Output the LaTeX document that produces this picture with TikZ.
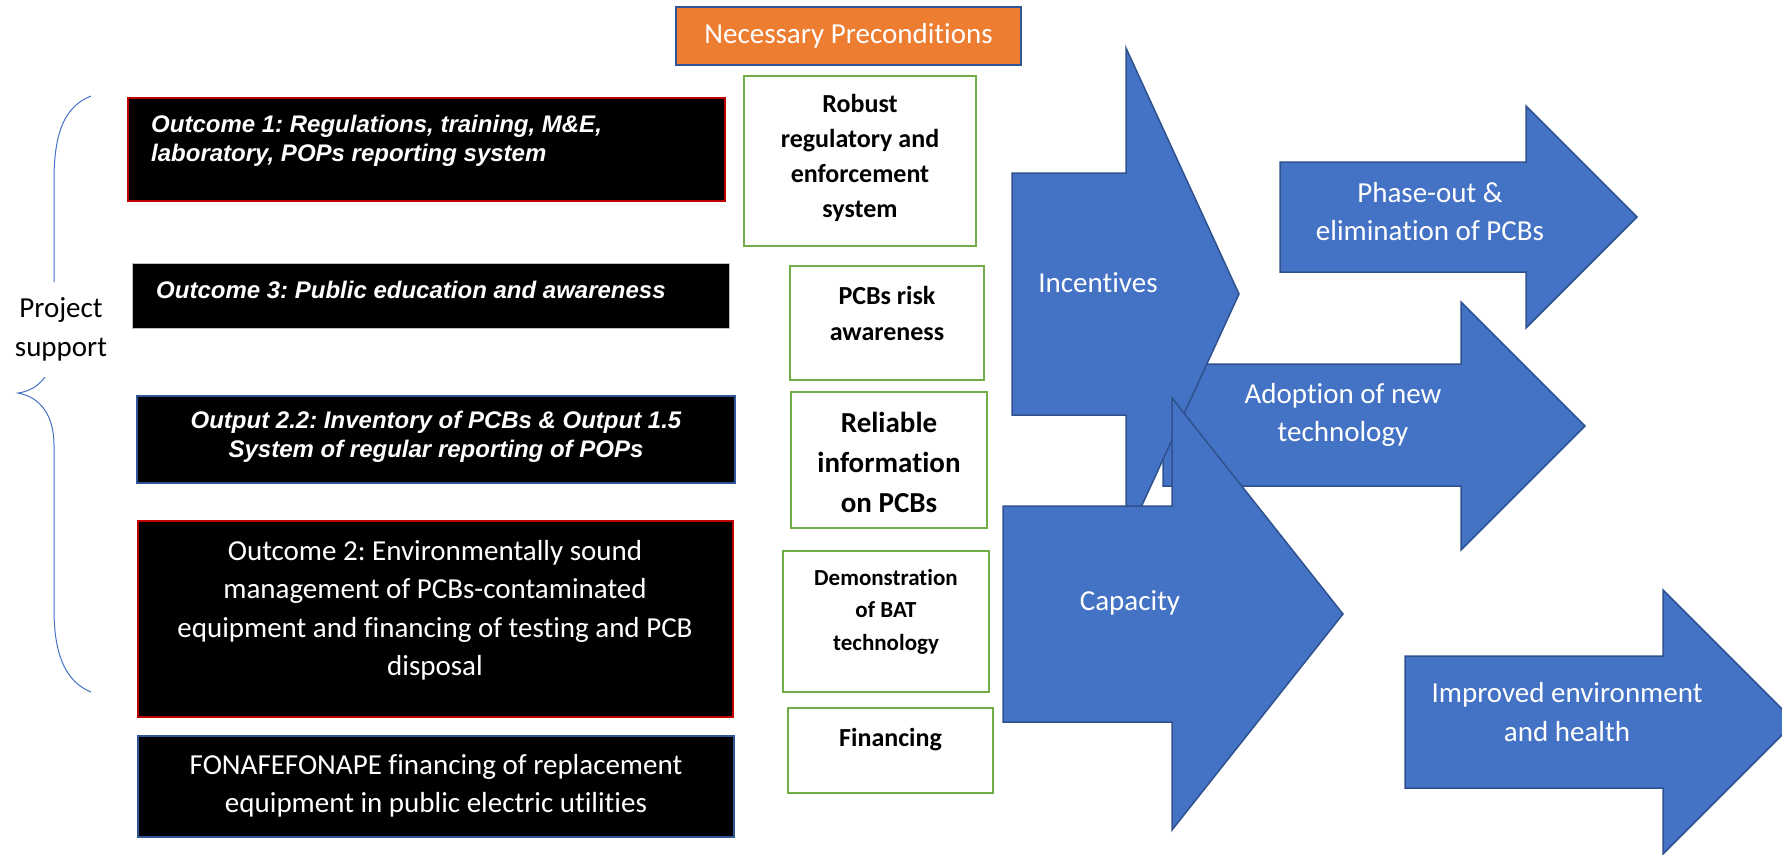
\documentclass[tikz,border=0pt]{standalone}
\usepackage{fontspec}
\setmainfont{Carlito}[RawFeature={-liga}]
\newfontfamily\arialfont{Liberation Sans}
\frenchspacing

\definecolor{arrowblue}{HTML}{4472C4}
\definecolor{arrowedge}{HTML}{2F528F}
\definecolor{precorange}{HTML}{ED7D31}
\definecolor{boxred}{HTML}{C00000}
\definecolor{boxblue}{HTML}{2F5597}
\definecolor{boxgreen}{HTML}{70AD47}
\definecolor{bracecol}{HTML}{4472C4}

\tikzset{
  outbox/.style={draw, fill=black, line width=2.5pt, inner sep=0pt},
  condbox/.style={draw=boxgreen, fill=white, line width=2.5pt, inner sep=0pt},
  outtext/.style={text=white, inner sep=0pt,
    font=\arialfont\bfseries\itshape\fontsize{24}{29}\selectfont},
  plaintext/.style={text=white, inner sep=0pt, align=center,
    font=\fontsize{29}{38.5}\selectfont},
  condtext/.style={inner sep=0pt, align=center, font=\bfseries},
  bigarrow/.style={fill=arrowblue, draw=arrowedge, line width=1.5pt, line join=miter},
  arrowtext/.style={text=white, inner sep=0pt, align=center,
    font=\fontsize{29}{38.5}\selectfont}
}

\begin{document}
\begin{tikzpicture}[x=1pt,y=-1pt]

        \clip (0,0) rectangle (1782,854);
        \fill[white] (0,0) rectangle (1782,854);

        % the big arrows
        \begin{scope}[every path/.style={bigarrow}]
          \draw (1163,364) -- (1461,364) -- (1461,302) -- (1585,426)
                -- (1461,550) -- (1461,486) -- (1163,486) -- cycle;
          \draw (1012,173) -- (1126,173) -- (1126,48) -- (1239,294)
                -- (1126,540) -- (1126,415) -- (1012,415) -- cycle;
          \draw (1003,506) -- (1172,506) -- (1172,398) -- (1343,614)
                -- (1172,830) -- (1172,722) -- (1003,722) -- cycle;
          \draw (1280,162) -- (1526,162) -- (1526,106) -- (1637,217)
                -- (1526,328) -- (1526,272) -- (1280,272) -- cycle;
          \draw (1405,656) -- (1663,656) -- (1663,590) -- (1795,722)
                -- (1663,854) -- (1663,788) -- (1405,788) -- cycle;
        \end{scope}

        \begin{scope}[every node/.style={arrowtext}]
          \node (incent)  at (1098,283)   {Incentives};
          \node (capac)   at (1130,603)   {Capacity};
          \node (phase)   at (1430,211.5) {Phase-out \&\\elimination of PCBs};
          \node (adopt)   at (1343,415)   {Adoption of new\\technology};
          \node (improv)  at (1567,712)   {Improved environment\\and health};
        \end{scope}

        % header
        \node[draw=boxblue, fill=precorange, line width=2.5pt, text=white,
              minimum width=345pt, minimum height=58pt, inner sep=0pt,
              font=\fontsize{29}{35}\selectfont] (prec) at (848.5,36) {Necessary Preconditions};

        % project support
        \draw[bracecol, line width=1pt] (91,96) .. controls (66,106) and (54,130) .. (54,180)
              -- (54,345) .. controls (54,372) and (40,390) .. (18,393)
              .. controls (40,397) and (54,415) .. (54,445)
              -- (54,610) .. controls (54,655) and (66,682) .. (91,692);
        \node[fill=white, inner xsep=4pt, inner ysep=16pt, align=center,
              font=\fontsize{29}{39}\selectfont] (support) at (61,329.5) {Project\\support};

        % outcome boxes
        \begin{scope}[every node/.style={outbox}]
          \node[draw=boxred, minimum width=597pt, minimum height=103pt] (out1)   at (426.5,149.5) {};
          \node[draw=gray!50, line width=1pt, minimum width=597pt, minimum height=65pt] (out3) at (430.5,295.5) {};
          \node[draw=boxblue, minimum width=598pt, minimum height=87pt]  (out22)  at (436,439.5)   {};
          \node[draw=boxred, minimum width=595pt, minimum height=196pt] (out2)   at (435.5,619)   {};
          \node[draw=boxblue, minimum width=596pt, minimum height=101pt] (fonafe) at (436,786.5)   {};
        \end{scope}

        \node[outtext, anchor=west, align=left] (out1txt) at (151,140.5)
              {Outcome 1: Regulations, training, M\&E,\\laboratory, POPs reporting system};
        \node[outtext, anchor=west] (out3txt) at (156,290) {Outcome 3: Public education and awareness};
        \node[outtext, align=center] (out22txt) at (436,436.5)
              {Output 2.2: Inventory of PCBs \& Output 1.5\\System of regular reporting of POPs};
        \node[plaintext] (out2txt) at (435,610.5)
              {Outcome 2: Environmentally sound\\management of PCBs-contaminated\\equipment and financing of testing and PCB\\disposal};
        \node[plaintext] (fonafetxt) at (436,786)
              {FONAFEFONAPE financing of replacement\\equipment in public electric utilities};

        % preconditions
        \begin{scope}[every node/.style={condbox}]
          \node[minimum width=232pt, minimum height=170pt] (robust)   at (860,161)   {};
          \node[minimum width=194pt, minimum height=114pt] (risk)     at (887,323)   {};
          \node[minimum width=196pt, minimum height=136pt] (reliable) at (889,460)   {};
          \node[minimum width=206pt, minimum height=141pt] (demo)     at (886,621.5) {};
          \node[minimum width=205pt, minimum height=85pt]  (fin)      at (890.5,750.5) {};
        \end{scope}

        \node[condtext, font=\bfseries\fontsize{26}{35}\selectfont] (robusttxt) at (860,158)
              {Robust\\regulatory and\\enforcement\\system};
        \node[condtext, font=\bfseries\fontsize{26}{36}\selectfont] (risktxt) at (887,313)
              {PCBs risk\\awareness};
        \node[condtext, font=\bfseries\fontsize{29}{40}\selectfont] (reliabletxt) at (889,462)
              {Reliable\\information\\on PCBs};
        \node[condtext, font=\bfseries\fontsize{23}{32.5}\selectfont] (demotxt) at (886,611.5)
              {Demonstration\\of BAT\\technology};
        \node[condtext, font=\bfseries\fontsize{26}{32}\selectfont] (fintxt) at (890.5,740)
              {Financing};

      \end{tikzpicture}
\end{document}
